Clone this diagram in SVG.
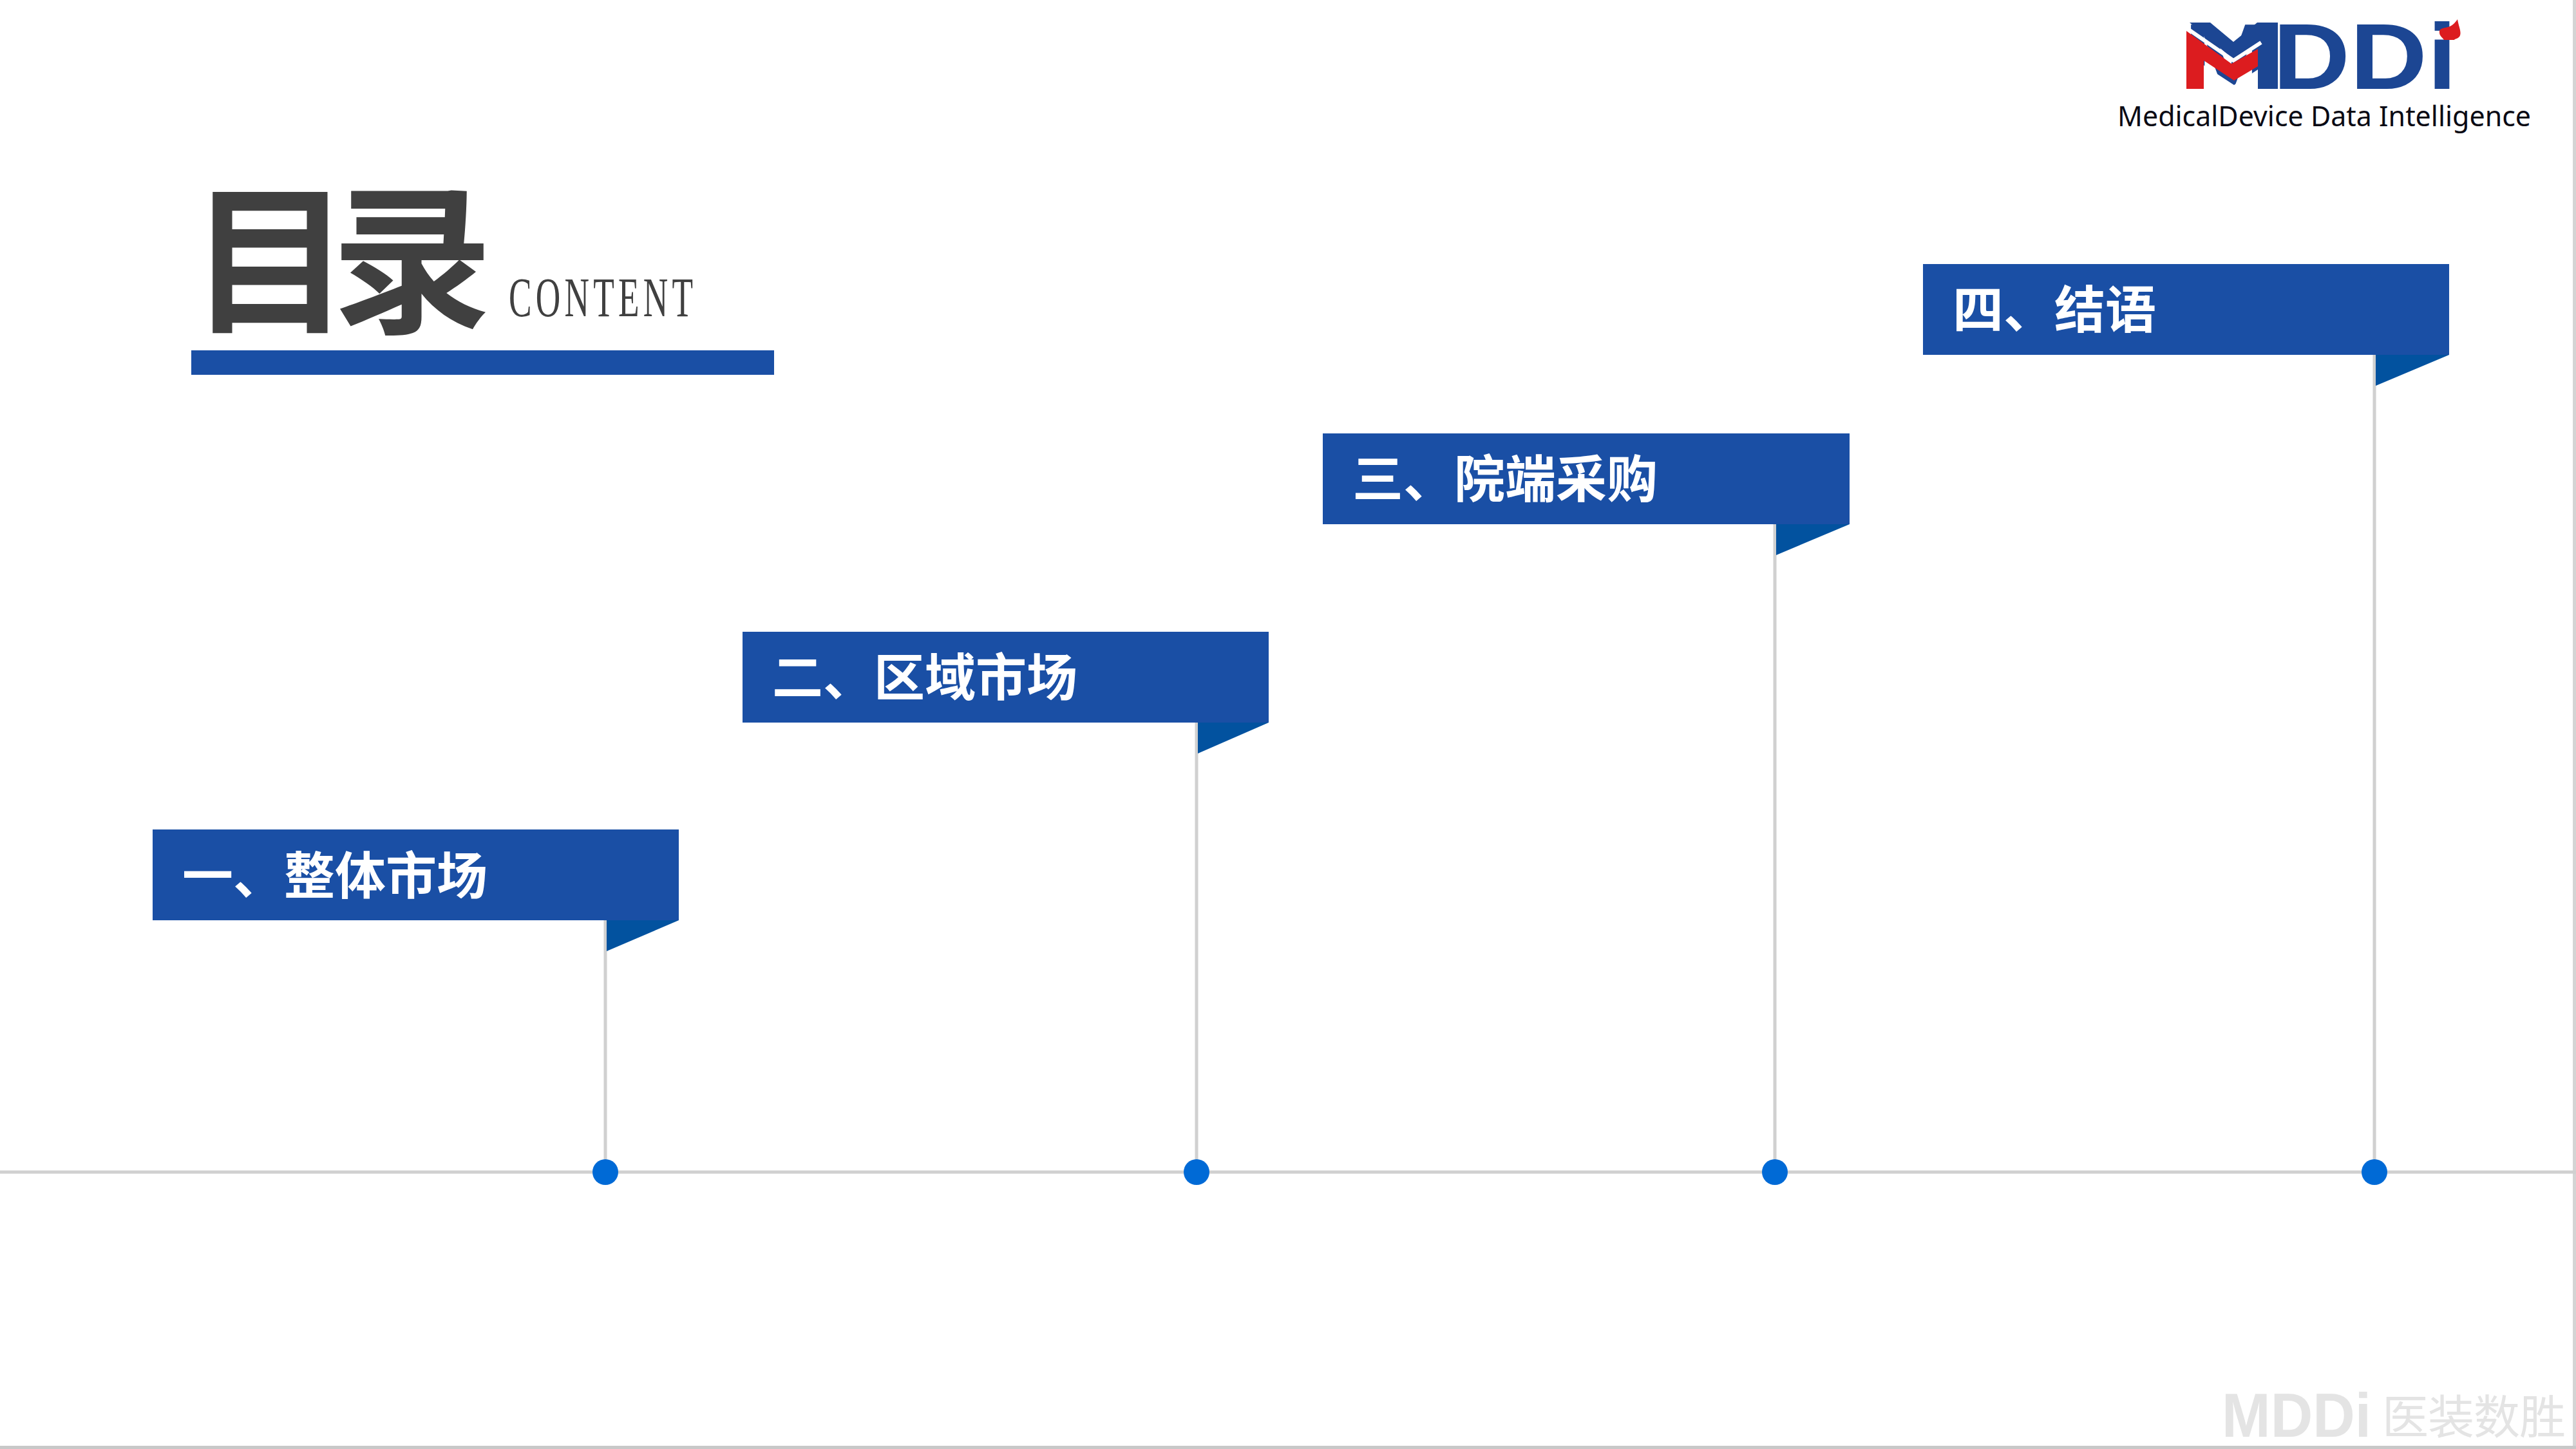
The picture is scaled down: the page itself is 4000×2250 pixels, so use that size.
<svg xmlns="http://www.w3.org/2000/svg" width="4000" height="2250" viewBox="0 0 4000 2250">
<style>
.band{fill:#1a4fa5}
.fold{fill:#02529f}
.rule{stroke:#d0d0d0;stroke-width:5;fill:none}
.dot{fill:#006ad6}
.label{font-family:"Noto Sans CJK SC","Noto Sans",sans-serif;font-weight:700;font-size:79px;fill:#fff}
.wm{fill:#e4e4e4}
</style>
<rect width="4000" height="2250" fill="#fff"/>
<g id="frame">
<rect x="3995" y="0" width="5" height="2250" fill="#d4d4d4"/>
<rect x="0" y="2245" width="4000" height="5" fill="#c8c8c8"/>
</g>
<g id="connectors">
<line class="rule" x1="0" y1="1820" x2="4000" y2="1820"/>
<line class="rule" x1="940" y1="1429" x2="940" y2="1820"/>
<line class="rule" x1="1858" y1="1122" x2="1858" y2="1820"/>
<line class="rule" x1="2756" y1="814" x2="2756" y2="1820"/>
<line class="rule" x1="3687" y1="551" x2="3687" y2="1820"/>
</g>
<g id="title">
<text x="295" y="497" font-family="'Noto Sans CJK SC',sans-serif" font-weight="700" font-size="250" letter-spacing="-30" fill="#404040">目录</text>
<text transform="translate(790,491) scale(0.62,1)" font-family="'Liberation Serif',serif" font-size="86" letter-spacing="10" fill="#404040">CONTENT</text>
<rect class="band" x="297" y="544" width="905" height="38"/>
</g>
<g id="logo">
<text x="3391" y="138" font-family="'Liberation Sans',sans-serif" font-weight="700" font-size="144" fill="#1c4693" textLength="424" lengthAdjust="spacingAndGlyphs">MDDi</text>
<polygon points="3420,100 3469,132 3506,108 3506,140 3420,140" fill="#fff"/>
<polygon points="3400,35 3432,35 3468,65 3505,35 3537,35 3537,138 3511,138 3511,64 3468,92" fill="#1c4693"/>
<polyline points="3390,40 3468,94 3511,66" fill="none" stroke="#fff" stroke-width="6"/>
<polygon points="3395,48 3465,99 3506,76 3506,103 3469,125 3422,94 3422,138 3395,138" fill="#dc1c1f"/>
<path d="M3816,30 C3818,42 3822,48 3820,55 C3818,60 3812,60 3811,62 L3795,62 C3793,58 3787,56 3788,48 C3790,42 3800,44 3806,40 C3810,38 3813,34 3816,30Z" fill="#dc1c1f"/>
<text x="3288" y="196" font-family="'Noto Sans','Open Sans',sans-serif" font-size="43" fill="#0a0a14" textLength="642" lengthAdjust="spacingAndGlyphs">MedicalDevice Data Intelligence</text>
</g>
<g id="node-1">
<rect class="band" x="237" y="1288" width="817" height="141"/>
<polygon class="fold" points="942,1429 1054,1429 942,1477"/>
<text class="label" x="283" y="1389">一、整体市场</text>
<circle class="dot" cx="940" cy="1820" r="20"/>
</g>
<g id="node-2">
<rect class="band" x="1153" y="981" width="817" height="141"/>
<polygon class="fold" points="1860,1122 1970,1122 1860,1170"/>
<text class="label" x="1199" y="1081">二、区域市场</text>
<circle class="dot" cx="1858" cy="1820" r="20"/>
</g>
<g id="node-3">
<rect class="band" x="2054" y="673" width="818" height="141"/>
<polygon class="fold" points="2758,814 2872,814 2758,862"/>
<text class="label" x="2100" y="773">三、院端采购</text>
<circle class="dot" cx="2756" cy="1820" r="20"/>
</g>
<g id="node-4">
<rect class="band" x="2986" y="410" width="817" height="141"/>
<polygon class="fold" points="3689,551 3803,551 3689,599"/>
<text class="label" x="3032" y="510">四、结语</text>
<circle class="dot" cx="3687" cy="1820" r="20"/>
</g>
<g id="watermark">
<text class="wm" x="3450" y="2231" font-family="'Liberation Sans',sans-serif" font-weight="700" font-size="96" textLength="232" lengthAdjust="spacingAndGlyphs">MDDi</text>
<text class="wm" x="3699" y="2226" font-family="'Noto Sans CJK SC',sans-serif" font-size="72" letter-spacing="-1">医装数胜</text>
</g>
</svg>
